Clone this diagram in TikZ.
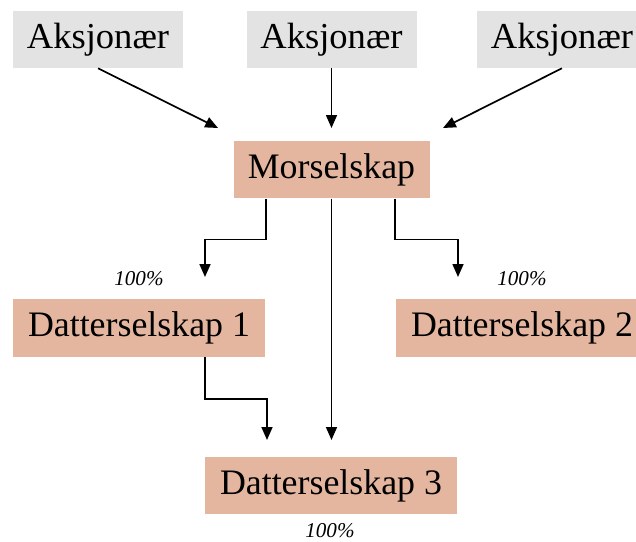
\documentclass[tikz,border=0pt]{standalone}
\usepackage{fontspec}
\setmainfont{Liberation Serif}
\usepackage{tikz}
\usetikzlibrary{
  arrows.meta,  % Triangle 箭头
  positioning   % 节点相对定位
}
\definecolor{eierfarge}{RGB}{227,227,227}
\definecolor{selskapfarge}{RGB}{229,182,159}
\tikzset{
  owner box/.style={
    fill=eierfarge,
    inner sep=0pt,
    minimum width=4.25cm,
    minimum height=1.425cm,
    font=\fontsize{26}{31}\selectfont
  },
  company box/.style={
    fill=selskapfarge,
    inner sep=0pt,
    minimum height=1.44cm,
    font=\fontsize{25.5}{30}\selectfont
  },
  pct label/.style={
    font=\fontsize{15}{18}\selectfont\itshape
  },
  pil/.style={
    -{Triangle[length=0.32cm,width=0.27cm]},
    line width=1.2pt
  }
}

\begin{document}
\begin{tikzpicture}

  % 画布大小 (636 x 542 像素, 1 像素 = 0.025 厘米)
  \clip (0,0) rectangle (15.9,-13.55);

  % ======================= 股东 =======================
  \node[owner box] (aks1) at (2.45, -0.9875) {Aksjonær};
  \node[owner box] (aks2) at (8.2875, -0.9875) {Aksjonær};
  \node[owner box] (aks3) at (14.05, -0.9875) {Aksjonær};

  % ======================= 公司 =======================
  \node[company box, minimum width=4.9cm] (mor) at (8.2875, -4.2375) {Morselskap};
  \node[company box, minimum width=6.3cm] (datter1) at (3.475, -8.2) {Datterselskap 1};
  \node[company box, minimum width=6.3cm] (datter2) at (13.05, -8.2) {Datterselskap 2};
  \node[company box, minimum width=6.3cm] (datter3) at (8.275, -12.1375) {Datterselskap 3};

  % 持股比例
  \node[pct label] (pct1) at (3.475, -6.975) {100\%};
  \node[pct label] (pct2) at (13.05, -6.975) {100\%};
  \node[pct label] (pct3) at (8.25, -13.27) {100\%};

  % 箭头终点 (不接触方框)
  \coordinate (inn1) at (5.45, -3.2);
  \coordinate (inn2) at (8.2875, -3.2);
  \coordinate (inn3) at (11.075, -3.2);
  \coordinate (til1) at (5.125, -6.925);
  \coordinate (til2) at (11.45, -6.925);
  \coordinate (til3a) at (6.675, -11.0);
  \coordinate (til3b) at (8.2875, -11.0);

  % ======================= 连线 =======================
  % 1. 股东 -> 母公司
  \draw[pil] (aks1.south) -- (inn1);
  \draw[pil] (aks2.south) -- (inn2);
  \draw[pil] (aks3.south) -- (inn3);

  % 2. 母公司 -> 子公司 (折线)
  \draw[pil] ([xshift=-1.6375cm]mor.south) -- ++(0,-1.025) -| (til1);
  \draw[pil] ([xshift=1.5875cm]mor.south) -- ++(0,-1.025) -| (til2);
  \draw[pil] (mor.south) -- (til3b);

  % 3. 子公司 1 -> 子公司 3
  \draw[pil] ([xshift=1.65cm]datter1.south) -- ++(0,-1.05) -| (til3a);

\end{tikzpicture}
\end{document}
